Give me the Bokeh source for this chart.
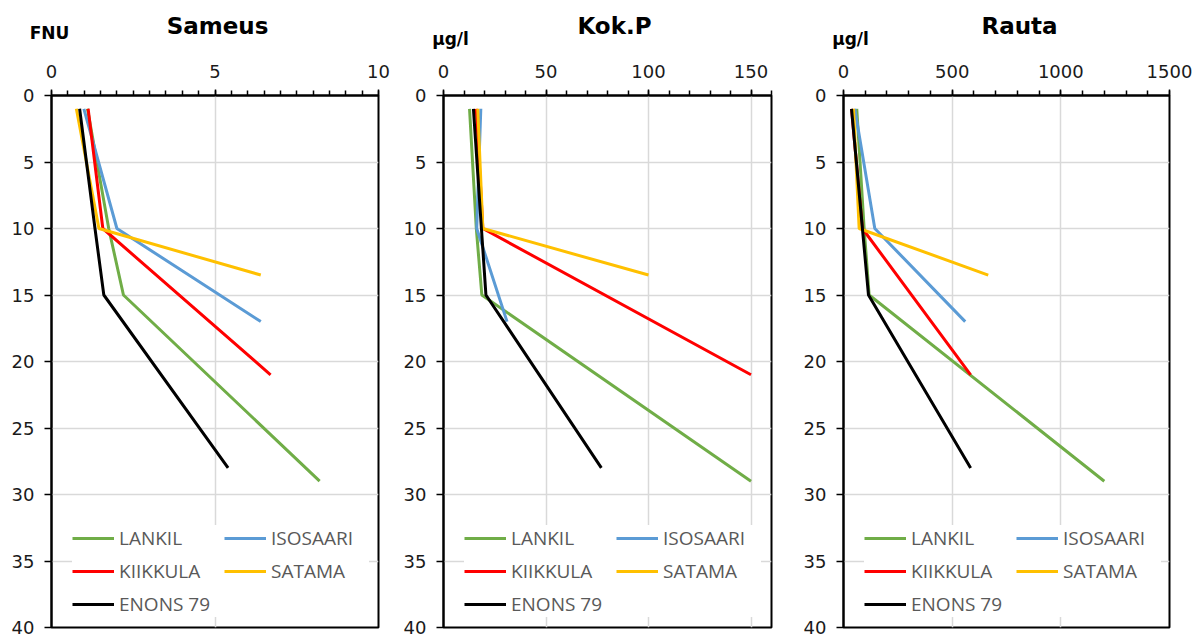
from bokeh.plotting import figure
from bokeh.models import Range1d, FixedTicker, Legend, LegendItem, Label
from bokeh.layouts import row, column
from bokeh.embed import file_html
from bokeh.resources import INLINE

# ---- data ----
stations = ["LANKIL", "ISOSAARI", "KIIKKULA", "SATAMA", "ENONS 79"]
colors = ["#70AD47", "#5B9BD5", "#FF0000", "#FFC000", "#000000"]

depth_lankil = [1, 10, 15, 29]
depth_isosaari = [1, 10, 17]
depth_kiikkula = [1, 10, 21]
depth_satama = [1, 10, 13.5]
depth_enons = [1, 10, 15, 28]
depths = [depth_lankil, depth_isosaari, depth_kiikkula, depth_satama, depth_enons]

# Sameus (FNU)
sameus_lankil = [1.1, 1.75, 2.2, 8.2]
sameus_isosaari = [0.99, 2.0, 6.4]
sameus_kiikkula = [1.12, 1.57, 6.7]
sameus_satama = [0.76, 1.45, 6.4]
sameus_enons = [0.86, 1.33, 1.6, 5.4]

# Kok.P (ug/l)
kokp_lankil = [12.7, 16, 18.7, 150]
kokp_isosaari = [18.2, 16.2, 31]
kokp_kiikkula = [16, 19.2, 150]
kokp_satama = [16.7, 19.2, 100]
kokp_enons = [14.6, 18.5, 20.7, 77]

# Rauta (ug/l)
rauta_lankil = [61, 95, 118, 1200]
rauta_isosaari = [52, 144, 560]
rauta_kiikkula = [37, 87, 585]
rauta_satama = [46, 72, 666]
rauta_enons = [37, 87, 115, 585]

y_ticks = [0, 5, 10, 15, 20, 25, 30, 35, 40]

titles = ["Sameus", "Kok.P", "Rauta"]
units = ["FNU", "µg/l", "µg/l"]

panels = [
    dict(xmax=10, major=[0, 5, 10], minor_step=0.5,
         vals=[sameus_lankil, sameus_isosaari, sameus_kiikkula, sameus_satama, sameus_enons],
         width=400, bl=51, br=22),
    dict(xmax=160, major=[0, 50, 100, 150], minor_step=10,
         vals=[kokp_lankil, kokp_isosaari, kokp_kiikkula, kokp_satama, kokp_enons],
         width=400, bl=43, br=29),
    dict(xmax=1500, major=[0, 500, 1000, 1500], minor_step=100,
         vals=[rauta_lankil, rauta_isosaari, rauta_kiikkula, rauta_satama, rauta_enons],
         width=395, bl=43, br=26),
]

FONT = "DejaVu Sans"
HEADER_H = 50

# ---- header strip with titles and unit labels (pixel-based coordinates) ----
header = figure(width=1195, height=HEADER_H, output_backend="svg", toolbar_location=None,
                x_range=Range1d(0, 1195), y_range=Range1d(HEADER_H, 0),
                x_axis_type=None, y_axis_type=None, title_location=None,
                min_border=0, outline_line_color=None)
title_pos = [(217, 25), (614, 25), (1019, 25)]
unit_pos = [(49, 32), (450, 38), (850, 38)]
for t, (tx, ty) in zip(titles, title_pos):
    header.add_layout(Label(x=tx, y=ty, text=t, text_font=FONT, text_font_style="bold",
                            text_font_size="23px", text_align="center",
                            text_baseline="alphabetic", text_color="black"))
for u, (ux, uy) in zip(units, unit_pos):
    header.add_layout(Label(x=ux, y=uy, text=u, text_font=FONT, text_font_style="bold",
                            text_font_size="17px", text_align="center",
                            text_baseline="alphabetic", text_color="black"))

figs = []
for pn in panels:
    p = figure(width=pn["width"], height=637 - HEADER_H, output_backend="svg",
               toolbar_location=None, x_axis_location="above",
               x_range=Range1d(0, pn["xmax"]), y_range=Range1d(40, 0),
               min_border_left=pn["bl"], min_border_right=pn["br"],
               min_border_top=95 - HEADER_H, min_border_bottom=10, title_location=None)
    p.outline_line_color = "black"
    p.outline_line_width = 2
    nminor = int(round(pn["xmax"] / pn["minor_step"]))
    minors = [i * pn["minor_step"] for i in range(nminor + 1)]
    p.xaxis.ticker = FixedTicker(ticks=pn["major"], minor_ticks=minors)
    p.yaxis.ticker = FixedTicker(ticks=y_ticks, minor_ticks=[])
    for ax in (p.xaxis, p.yaxis):
        ax.axis_line_color = "black"
        ax.axis_line_width = 2
        ax.major_tick_line_color = "black"
        ax.major_tick_line_width = 1.5
        ax.minor_tick_line_color = "black"
        ax.minor_tick_line_width = 1.5
        ax.major_tick_in = 0
        ax.minor_tick_in = 0
        ax.major_label_text_font = FONT
        ax.major_label_text_font_size = "18px"
        ax.major_label_text_color = "#1a1a1a"
    p.xaxis.major_tick_out = 6
    p.xaxis.minor_tick_out = 5
    p.xaxis.major_label_standoff = 12
    p.yaxis.major_tick_out = 7
    p.yaxis.minor_tick_out = 0
    p.yaxis.major_label_standoff = 10
    p.xgrid.grid_line_color = "#d9d9d9"
    p.ygrid.grid_line_color = "#d9d9d9"
    p.xgrid.grid_line_width = 1.5
    p.ygrid.grid_line_width = 1.5

    items = []
    for name, col, d, v in zip(stations, colors, depths, pn["vals"]):
        r = p.line(v, d, line_color=col, line_width=3)
        items.append(LegendItem(label=name, renderers=[r]))
    legend = Legend(items=items, location=(21, 10), ncols=2, orientation="horizontal",
                    label_text_font="Open Sans", label_text_font_size="19px",
                    label_text_color="#595959", glyph_width=42, glyph_height=20,
                    label_height=20, label_width=98, label_standoff=5, spacing=7,
                    padding=6, border_line_color=None, background_fill_color="white",
                    background_fill_alpha=1, margin=0)
    p.add_layout(legend)
    figs.append(p)

layout = column(header, row(*figs, spacing=0), spacing=0)
open("out.html", "w").write(file_html(layout, INLINE))
